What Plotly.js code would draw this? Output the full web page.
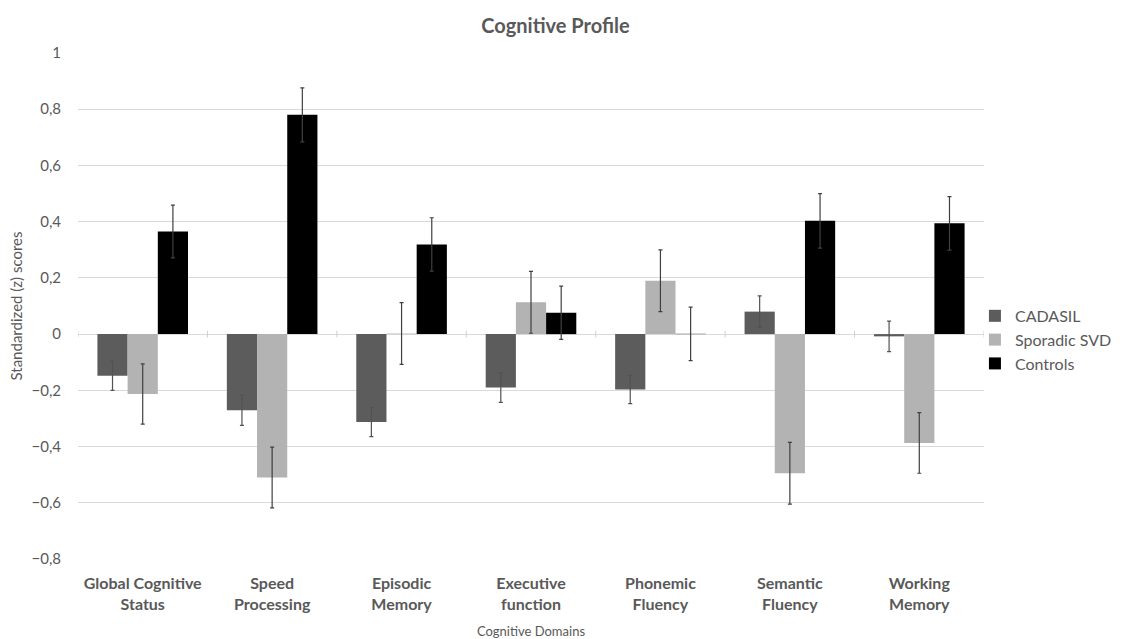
<!DOCTYPE html>
<html>
<head>
<meta charset="utf-8">
<script src="https://cdn.plot.ly/plotly-3.0.1.min.js"></script>
<style>html,body{margin:0;padding:0;background:#fff;}#chart{width:1129px;height:639px;}</style>
</head>
<body>
<div id="chart"></div>
<script>
const categories = ["Global Cognitive<br>Status", "Speed<br>Processing", "Episodic<br>Memory", "Executive<br>function", "Phonemic<br>Fluency", "Semantic<br>Fluency", "Working<br>Memory"];
const cadasil = [-0.148, -0.271, -0.313, -0.19, -0.197, 0.08, -0.008];
const cadasilErr = [0.052, 0.054, 0.052, 0.053, 0.05, 0.056, 0.054];
const sporadic = [-0.213, -0.51, 0.002, 0.113, 0.19, -0.495, -0.387];
const sporadicErr = [0.107, 0.108, 0.11, 0.11, 0.11, 0.11, 0.108];
const controls = [0.365, 0.78, 0.319, 0.076, 0.001, 0.403, 0.394];
const controlsErr = [0.094, 0.096, 0.095, 0.095, 0.095, 0.097, 0.095];

function mk(name, y, err, color, errColor) {
  return {type: 'bar', name: name, x: categories, y: y,
    marker: {color: color, line: {width: 0}},
    error_y: {type: 'data', array: err, visible: true, color: errColor, thickness: 1.2, width: 2}};
}
const data = [
  mk('CADASIL', cadasil, cadasilErr, '#5c5c5c', '#525252'),
  mk('Sporadic SVD', sporadic, sporadicErr, '#b3b3b3', '#404040'),
  mk('Controls', controls, controlsErr, '#000000', '#404040')
];

const shapes = [];
for (let i = 0; i <= categories.length; i++) {
  shapes.push({type: 'line', xref: 'x', yref: 'y', x0: i - 0.5, x1: i - 0.5, y0: -0.012, y1: 0.012,
    line: {color: '#d0d0d0', width: 1}});
}

const layout = {
  width: 1129, height: 639,
  paper_bgcolor: '#ffffff', plot_bgcolor: '#ffffff',
  font: {family: 'Lato, "Open Sans", sans-serif', color: '#595959', size: 15},
  separators: ',.',
  margin: {l: 78, r: 137, t: 53, b: 80},
  title: {text: '<b>Cognitive Profile</b>', x: 0.492, xanchor: 'center', y: 0.96, yanchor: 'middle',
    font: {size: 20, color: '#595959'}},
  barmode: 'group', bargap: 0.3, bargroupgap: 0,
  xaxis: {
    type: 'category', showgrid: false, zeroline: false, showline: false, ticks: '',
    tickfont: {size: 16, color: '#595959', weight: 'bold'},
    ticklabelstandoff: 13, automargin: false,
    range: [-0.5, categories.length - 0.5],
    title: {text: 'Cognitive Domains', font: {size: 13, color: '#595959'}, standoff: 15}
  },
  yaxis: {
    range: [-0.8, 1], dtick: 0.2, tick0: 0, automargin: false,
    showgrid: true, gridcolor: '#d9d9d9', gridwidth: 1,
    zeroline: true, zerolinecolor: '#d9d9d9', zerolinewidth: 1,
    showline: false, ticks: '',
    tickfont: {size: 15, color: '#595959'},
    ticklabelstandoff: 16,
    title: {text: 'Standardized (z) scores', font: {size: 15, color: '#595959'}, standoff: 5}
  },
  legend: {x: 0.99, xanchor: 'left', y: 0.514, yanchor: 'top', font: {size: 16, color: '#595959'},
    bgcolor: 'rgba(0,0,0,0)', tracegroupgap: 0, itemwidth: 30},
  shapes: shapes,
  showlegend: true
};

Plotly.newPlot('chart', data, layout, {displayModeBar: false, staticPlot: true});
</script>
</body>
</html>
